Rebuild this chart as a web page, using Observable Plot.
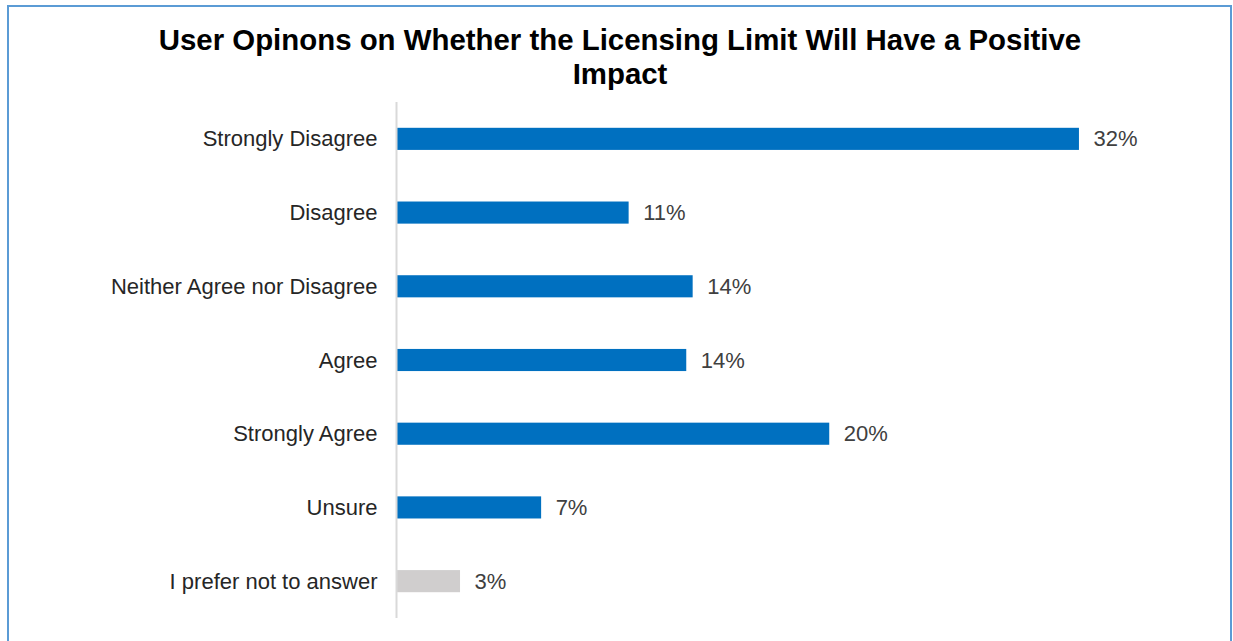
<!DOCTYPE html>
<html>
<head>
<meta charset="utf-8">
<script src="https://cdn.jsdelivr.net/npm/d3@7"></script>
<script src="https://cdn.jsdelivr.net/npm/@observablehq/plot@0.6"></script>
<style>
  html, body { margin: 0; padding: 0; background: #fff; }
  #wrap { position: relative; width: 1233px; height: 641px; overflow: hidden; font-family: "Liberation Sans", Arial, sans-serif; }
  #frame { position: absolute; left: 7px; top: 5px; width: 1225px; height: 660px; border: 2px solid #5B9BD5; box-sizing: border-box; }
  #title { position: absolute; left: 7px; top: 23px; width: 1226px; text-align: center; font-weight: bold; font-size: 29.4px; line-height: 34px; color: #000; }
  #chart { position: absolute; left: 0; top: 0; }
</style>
</head>
<body>
<div id="wrap">
  <div id="frame"></div>
  <div id="chart"></div>
  <div id="title">User Opinons on Whether the Licensing Limit Will Have a Positive<br>Impact</div>
</div>
<script>
const categories = ["Strongly Disagree", "Disagree", "Neither Agree nor Disagree", "Agree", "Strongly Agree", "Unsure", "I prefer not to answer"];
const values = [32.0, 10.9, 13.9, 13.6, 20.3, 6.8, 3.0];
const valueLabels = ["32%", "11%", "14%", "14%", "20%", "7%", "3%"];
const neutralCategory = "I prefer not to answer";

const data = categories.map((c, i) => ({category: c, value: values[i], label: valueLabels[i]}));

const chart = Plot.plot({
  width: 1233,
  height: 641,
  marginTop: 102,
  marginBottom: 23,
  marginLeft: 396,
  marginRight: 26,
  style: {fontFamily: "'Liberation Sans', Arial, sans-serif", fontSize: "22px", background: "transparent"},
  x: {domain: [0, 38], axis: null},
  y: {domain: categories, paddingInner: 0.7, paddingOuter: 0.35, round: false, label: null},
  marks: [
    Plot.barX(data, {
      x: "value", y: "category",
      fill: d => d.category === neutralCategory ? "#D0CECE" : "#0070C0"
    }),
    Plot.ruleX([0], {stroke: "#D9D9D9", strokeWidth: 2}),
    Plot.text(data, {
      x: "value", y: "category", text: "label",
      textAnchor: "start", dx: 14, fill: "#404040", fontSize: 22
    }),
    Plot.axisY({tickSize: 0, tickPadding: 19, fill: "#262626", fontSize: 22, label: null})
  ]
});
document.getElementById("chart").appendChild(chart);
</script>
</body>
</html>
